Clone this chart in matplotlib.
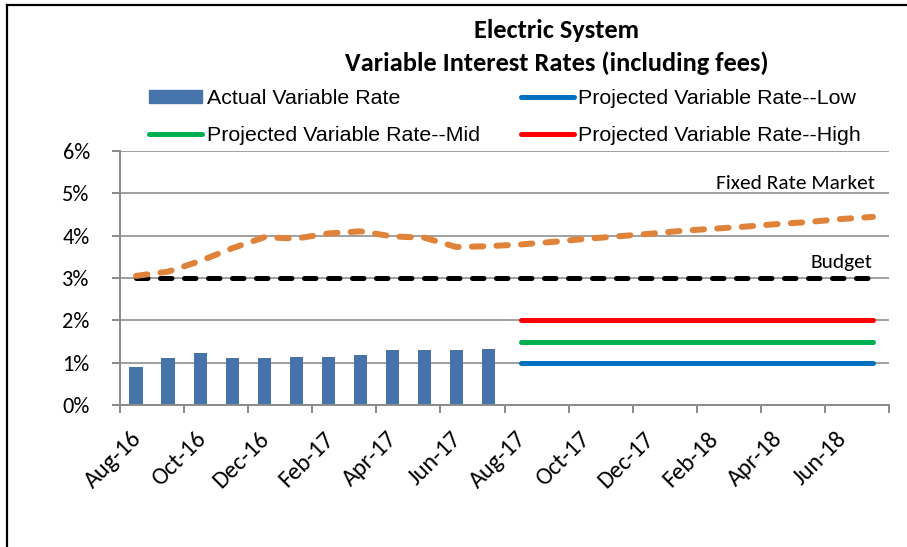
import matplotlib
matplotlib.use("Agg")
import matplotlib.pyplot as plt
import matplotlib.font_manager as fm
from matplotlib.lines import Line2D
from matplotlib.patches import Patch
from matplotlib.transforms import ScaledTranslation

# Monthly categories (Aug-16 .. Jul-18)
months = ["Aug-16", "Sep-16", "Oct-16", "Nov-16", "Dec-16", "Jan-17",
          "Feb-17", "Mar-17", "Apr-17", "May-17", "Jun-17", "Jul-17",
          "Aug-17", "Sep-17", "Oct-17", "Nov-17", "Dec-17", "Jan-18",
          "Feb-18", "Mar-18", "Apr-18", "May-18", "Jun-18", "Jul-18"]

# Values in percent
actual_rate = [0.91, 1.12, 1.23, 1.11, 1.11, 1.15, 1.15, 1.18, 1.31, 1.30, 1.30, 1.32]
fixed_market = [3.05, 3.15, 3.40, 3.70, 3.96, 3.93, 4.05, 4.10, 3.98, 3.95, 3.73, 3.75,
                3.79, 3.85, 3.92, 3.98, 4.04, 4.11, 4.16, 4.21, 4.27, 4.32, 4.39, 4.44]
budget = [3.0, 3.0, 3.0, 3.0, 3.0, 3.0, 3.0, 3.0, 3.0, 3.0, 3.0, 3.0,
          3.0, 3.0, 3.0, 3.0, 3.0, 3.0, 3.0, 3.0, 3.0, 3.0, 3.0, 3.0]
proj_low = [1.0, 1.0, 1.0, 1.0, 1.0, 1.0, 1.0, 1.0, 1.0, 1.0, 1.0, 1.0]
proj_mid = [1.5, 1.5, 1.5, 1.5, 1.5, 1.5, 1.5, 1.5, 1.5, 1.5, 1.5, 1.5]
proj_high = [2.0, 2.0, 2.0, 2.0, 2.0, 2.0, 2.0, 2.0, 2.0, 2.0, 2.0, 2.0]
y_ticks = [0, 1, 2, 3, 4, 5, 6]

# fonts: Calibri-ish and Arial-ish substitutes
names = {f.name for f in fm.fontManager.ttflist}
calibri = "Carlito" if "Carlito" in names else "Lato"
arial = "Liberation Sans" if "Liberation Sans" in names else "DejaVu Sans"
plt.rcParams["font.family"] = [calibri, "DejaVu Sans"]

grey = "#8C8C8C"
px = 72 / 100  # one pixel in points at dpi 100

fig = plt.figure(figsize=(9.07, 5.47), dpi=100)
ax = fig.add_axes([120 / 907, 1 - 405.3 / 547, 769 / 907, (405.3 - 150.7) / 547])

x_all = [i + 0.5 for i in range(len(months))]
x_act = x_all[:len(actual_rate)]
x_proj = x_all[len(months) - len(proj_low):]

ax.bar(x_act, actual_rate, width=0.41, color="#4674AA", zorder=2)
ax.plot(x_all, budget, color="black", lw=5 * px, dashes=(2.3, 2.5),
        dash_capstyle="round", zorder=3)
ax.plot(x_all, fixed_market, color="#E0833A", lw=6 * px, dashes=(1.9, 2.2),
        dash_capstyle="round", zorder=3)
ax.plot(x_proj, proj_high, color="#FF0000", lw=5 * px, solid_capstyle="round", zorder=3)
ax.plot(x_proj, proj_mid, color="#00B050", lw=5 * px, solid_capstyle="round", zorder=3)
ax.plot(x_proj, proj_low, color="#0070C0", lw=5 * px, solid_capstyle="round", zorder=3)

ax.set_xlim(0, len(months))
ax.set_ylim(0, 6)
ax.set_yticks(y_ticks)
ax.set_yticklabels([f"{v}%" for v in y_ticks], fontsize=16)
ax.yaxis.grid(True, color=grey, lw=1.6 * px)
ax.set_axisbelow(True)

# x ticks every two months; labels drawn by hand so they can sit like Excel's
ax.set_xticks(list(range(0, len(months) + 1, 2)))
ax.set_xticklabels([])
shift = ScaledTranslation(18 / 100, -30 / 100, fig.dpi_scale_trans)
for i in range(0, len(months), 2):
    ax.text(i, 0, months[i], transform=ax.get_xaxis_transform() + shift,
            fontsize=17.5, rotation=45, ha="right", va="center",
            rotation_mode="anchor", clip_on=False)

for s in ["top", "right"]:
    ax.spines[s].set_visible(False)
for s in ["left", "bottom"]:
    ax.spines[s].set_color(grey)
    ax.spines[s].set_linewidth(2 * px)
ax.tick_params(axis="both", direction="out", length=8 * px, width=2 * px, color=grey)
ax.tick_params(axis="y", pad=16)

ax.text(23.55, 5.1, "Fixed Rate Market", ha="right", va="baseline", fontsize=15.4)
ax.text(23.5, 3.24, "Budget", ha="right", va="baseline", fontsize=15.4)

fig.text(0.614, 0.944, "Electric System", ha="center", va="center",
         fontsize=19, fontweight="bold")
fig.text(0.614, 0.884, "Variable Interest Rates (including fees)", ha="center",
         va="center", fontsize=19, fontweight="bold")

handles = [
    Patch(color="#4674AA", label="Actual Variable Rate"),
    Line2D([], [], color="#00B050", lw=5 * px, solid_capstyle="round",
           label="Projected Variable Rate--Mid"),
    Line2D([], [], color="#0070C0", lw=5 * px, solid_capstyle="round",
           label="Projected Variable Rate--Low"),
    Line2D([], [], color="#FF0000", lw=5 * px, solid_capstyle="round",
           label="Projected Variable Rate--High"),
]
fig.legend(handles=handles, ncol=2, loc="upper left",
           bbox_to_anchor=(149 / 907, 1 - 89 / 547), frameon=False,
           prop={"family": arial, "size": 15.4}, borderpad=0, borderaxespad=0,
           handlelength=2.5, handleheight=0.55, handletextpad=0.2,
           columnspacing=1.9, labelspacing=0.85)

# outer frame (top and left edges visible)
fig.add_artist(Line2D([7 / 907, 7 / 907], [0, 1 - 5 / 547], color="black", lw=2.2 * px))
fig.add_artist(Line2D([7 / 907, 1], [1 - 5 / 547, 1 - 5 / 547], color="black", lw=2.2 * px))

fig.savefig("out.png", dpi=100)
